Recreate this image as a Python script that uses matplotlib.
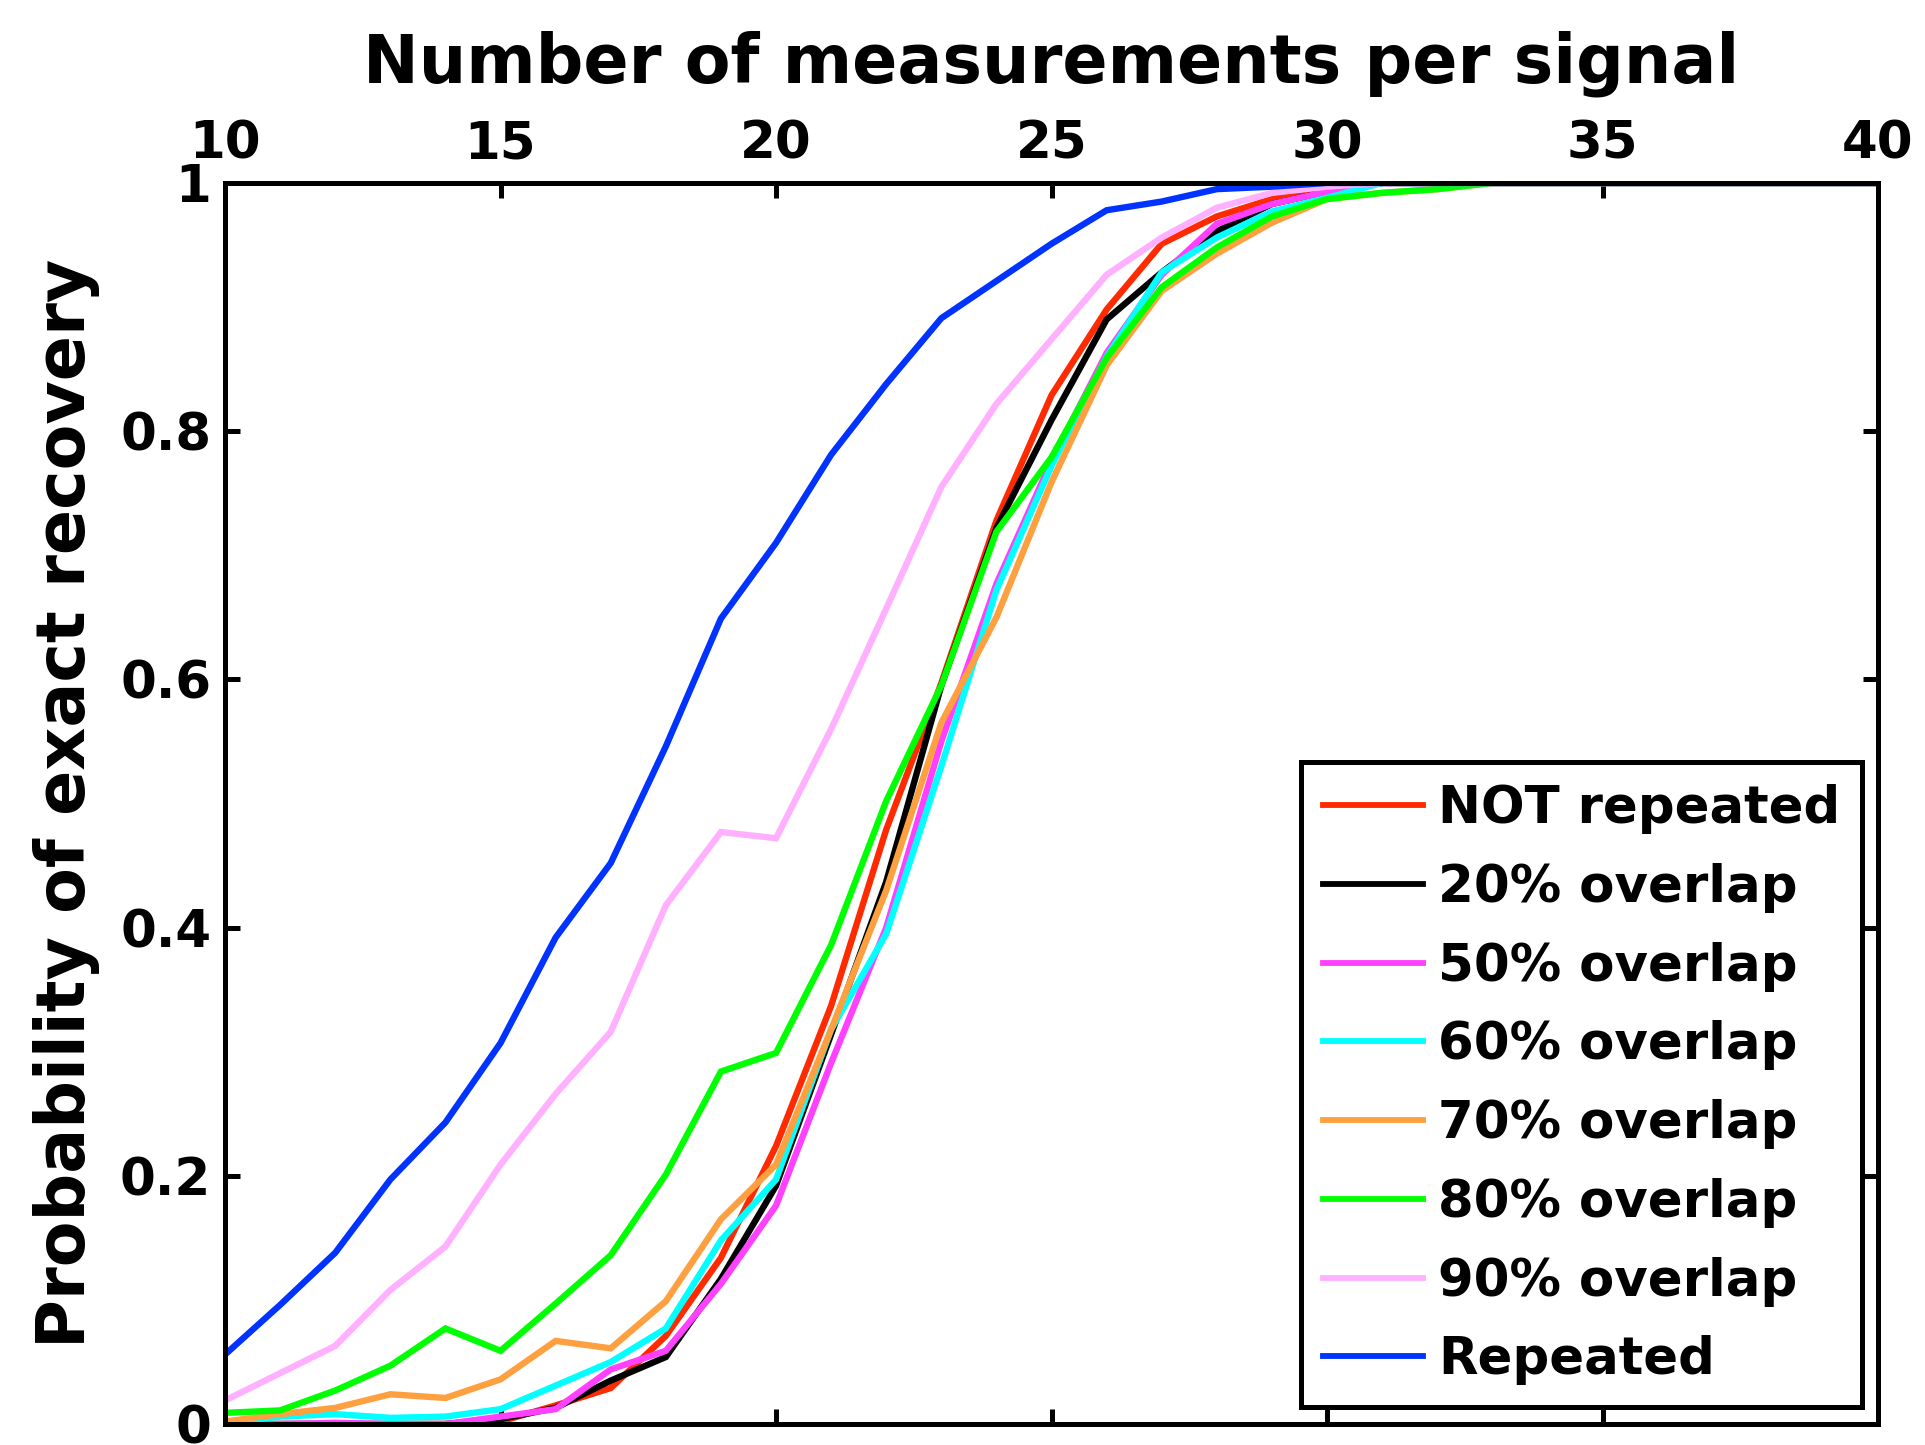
import matplotlib
matplotlib.use("Agg")
import matplotlib.pyplot as plt

plt.rcParams['font.family'] = ['DejaVu Sans']
plt.rcParams['font.weight'] = 'bold'

x = list(range(10, 41))

not_repeated = [0.0, 0.0, 0.0, 0.0, 0.0, 0.002, 0.015, 0.029, 0.071, 0.134, 0.224, 0.337, 0.479, 0.597, 0.728, 0.829, 0.898, 0.951, 0.973, 0.987, 0.995, 1.0, 1.0, 1.0, 1.0, 1.0, 1.0, 1.0, 1.0, 1.0, 1.0]
overlap20 = [0.0, 0.0, 0.0, 0.0, 0.0, 0.004, 0.013, 0.035, 0.054, 0.117, 0.192, 0.314, 0.437, 0.595, 0.722, 0.809, 0.890, 0.928, 0.961, 0.983, 0.993, 1.0, 1.0, 1.0, 1.0, 1.0, 1.0, 1.0, 1.0, 1.0, 1.0]
overlap50 = [0.0, 0.0, 0.001, 0.0, 0.0, 0.006, 0.012, 0.044, 0.059, 0.113, 0.176, 0.291, 0.400, 0.550, 0.677, 0.776, 0.863, 0.926, 0.967, 0.983, 0.993, 1.0, 1.0, 1.0, 1.0, 1.0, 1.0, 1.0, 1.0, 1.0, 1.0]
overlap60 = [0.001, 0.006, 0.008, 0.005, 0.006, 0.012, 0.031, 0.050, 0.077, 0.148, 0.197, 0.318, 0.395, 0.530, 0.672, 0.772, 0.860, 0.928, 0.956, 0.977, 0.988, 1.0, 1.0, 1.0, 1.0, 1.0, 1.0, 1.0, 1.0, 1.0, 1.0]
overlap70 = [0.002, 0.008, 0.013, 0.024, 0.021, 0.036, 0.067, 0.061, 0.099, 0.165, 0.209, 0.318, 0.430, 0.565, 0.650, 0.759, 0.853, 0.913, 0.943, 0.968, 0.987, 0.992, 0.995, 1.0, 1.0, 1.0, 1.0, 1.0, 1.0, 1.0, 1.0]
overlap80 = [0.009, 0.011, 0.027, 0.047, 0.077, 0.059, 0.097, 0.136, 0.201, 0.284, 0.299, 0.386, 0.502, 0.595, 0.719, 0.779, 0.859, 0.916, 0.948, 0.973, 0.987, 0.992, 0.995, 1.0, 1.0, 1.0, 1.0, 1.0, 1.0, 1.0, 1.0]
overlap90 = [0.019, 0.041, 0.063, 0.108, 0.143, 0.209, 0.266, 0.316, 0.418, 0.477, 0.472, 0.560, 0.657, 0.755, 0.822, 0.874, 0.926, 0.956, 0.980, 0.992, 0.997, 1.0, 1.0, 1.0, 1.0, 1.0, 1.0, 1.0, 1.0, 1.0, 1.0]
repeated = [0.056, 0.096, 0.138, 0.197, 0.243, 0.307, 0.392, 0.452, 0.546, 0.649, 0.710, 0.781, 0.838, 0.891, 0.921, 0.951, 0.978, 0.985, 0.995, 0.997, 1.0, 1.0, 1.0, 1.0, 1.0, 1.0, 1.0, 1.0, 1.0, 1.0, 1.0]

series = [not_repeated, overlap20, overlap50, overlap60, overlap70, overlap80, overlap90, repeated]
labels = ['NOT repeated', '20% overlap', '50% overlap', '60% overlap',
          '70% overlap', '80% overlap', '90% overlap', 'Repeated']
colors = ['#FF2A00', '#000000', '#FF40FF', '#00FFFF', '#FFA040', '#00FF00', '#FFB0FF', '#0033FF']

xticks = [10, 15, 20, 25, 30, 35, 40]
yticks = [0, 0.2, 0.4, 0.6, 0.8, 1]
ytick_labels = ['0', '0.2', '0.4', '0.6', '0.8', '1']

fig = plt.figure(figsize=(19.25, 14.45), dpi=100)
ax = fig.add_axes([0.1169, 0.0145, 0.8587, 0.8589])

for s, lab, c in zip(series, labels, colors):
    ax.plot(x, s, color=c, lw=4.6, label=lab, solid_joinstyle='miter')

ax.set_xlim(10, 40)
ax.set_ylim(0, 1)
ax.set_xticks(xticks)
ax.set_yticks(yticks)
ax.set_yticklabels(ytick_labels)
ax.xaxis.tick_top()
ax.xaxis.set_label_position('top')
ax.tick_params(axis='both', which='both', direction='in', length=11, width=3.6,
               top=True, bottom=True, left=True, right=True, labelsize=37, pad=10)
for sp in ax.spines.values():
    sp.set_linewidth(3.6)

ax.set_xlabel('Number of measurements per signal', fontsize=48, fontweight='bold', labelpad=26)
ax.set_ylabel('Probability of exact recovery', fontsize=48, fontweight='bold', labelpad=14)

leg = ax.legend(loc='lower right', bbox_to_anchor=(0.9903, 0.0137), borderaxespad=0,
                fancybox=False, framealpha=1, edgecolor='black',
                handlelength=1.95, handletextpad=0.3, labelspacing=0.56,
                borderpad=0.42, prop={'weight': 'bold', 'size': 37})
leg.get_frame().set_linewidth(3.6)
for h in leg.get_lines():
    h.set_linewidth(4.2)

fig.savefig('out.png', dpi=100)
